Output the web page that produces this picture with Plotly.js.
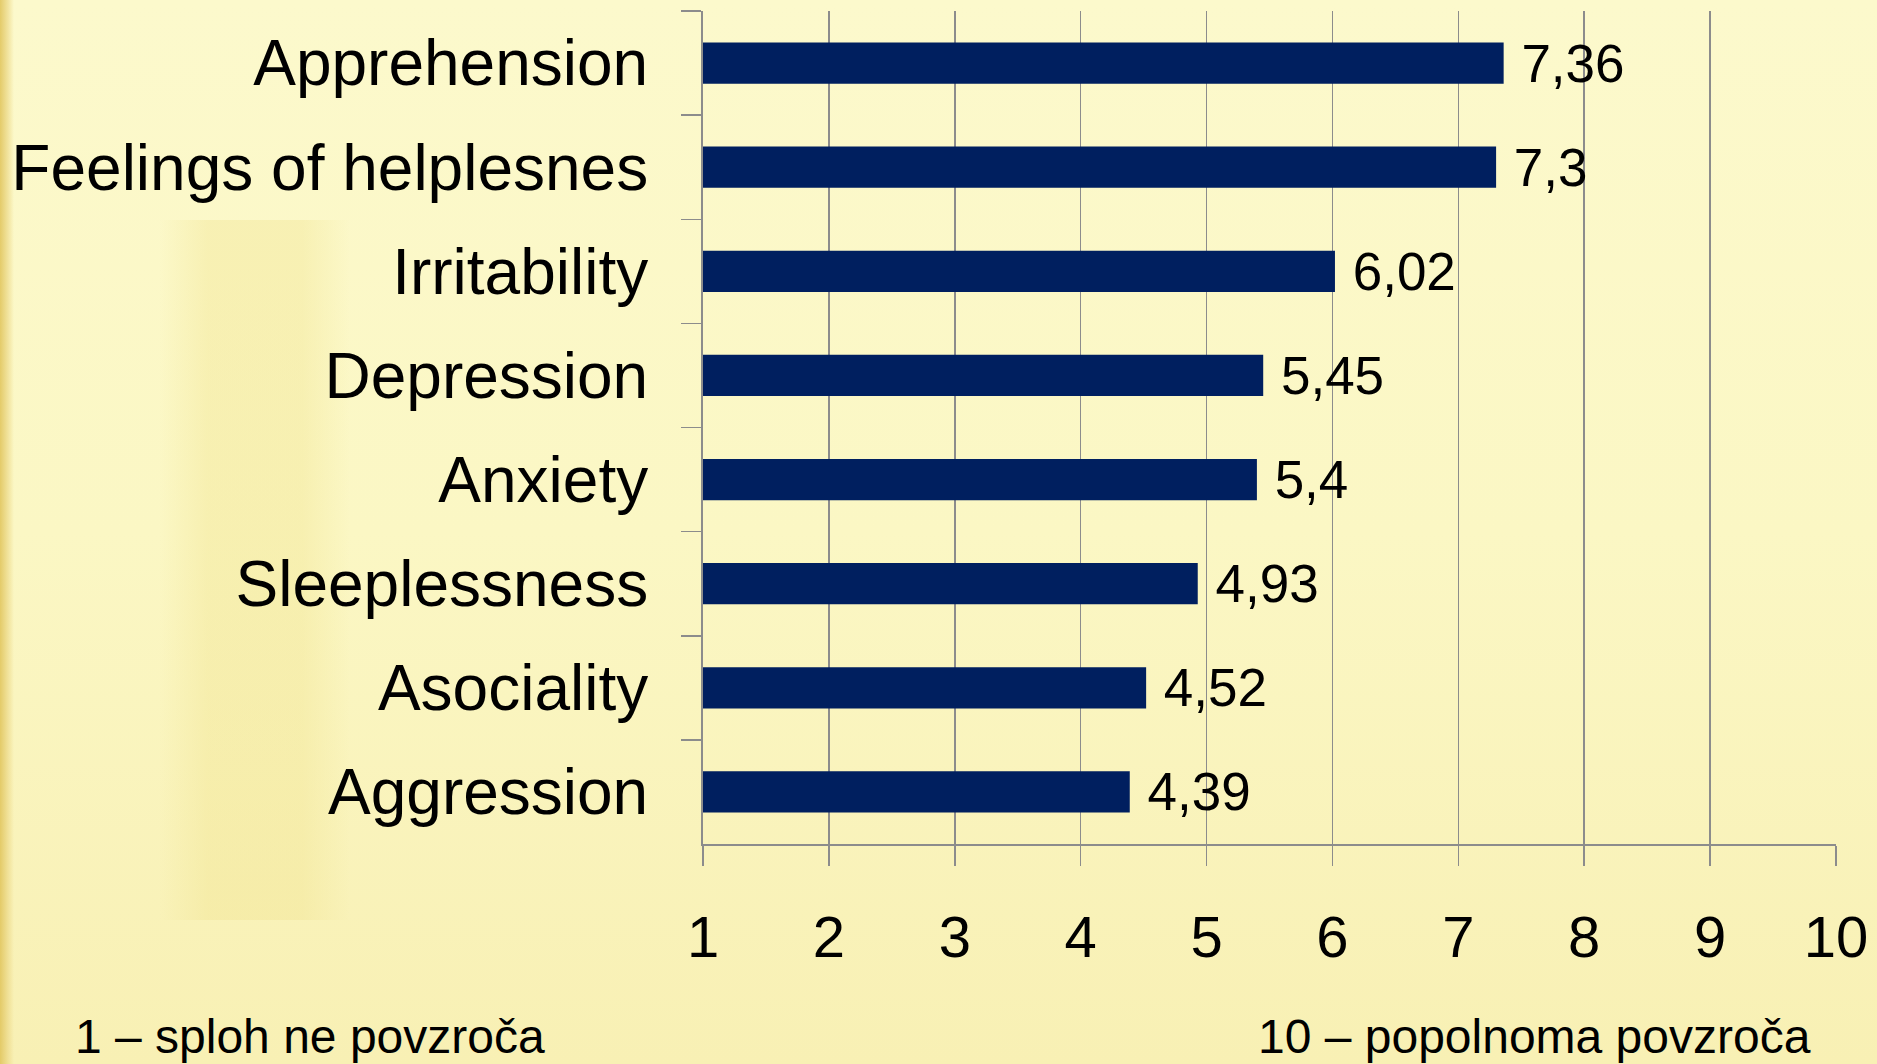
<!DOCTYPE html>
<html>
<head>
<meta charset="utf-8">
<script src="https://cdn.plot.ly/plotly-3.0.1.min.js"></script>
<style>
  html, body { margin: 0; padding: 0; width: 1877px; height: 1064px; overflow: hidden; }
  body {
    background:
      linear-gradient(to right, rgba(225,198,95,0.9) 0px, rgba(235,214,130,0.6) 8px, rgba(250,244,200,0) 14px),
      linear-gradient(to right, rgba(240,226,140,0) 0%, rgba(240,226,140,0.35) 25%, rgba(240,226,140,0.35) 75%, rgba(240,226,140,0) 100%) 160px 220px / 190px 700px no-repeat,
      linear-gradient(to bottom, #fcf9cc 0%, #fbf7c4 50%, #f8f0b4 100%);
  }
  #chart { position: absolute; left: 0; top: 0; width: 1877px; height: 1064px; }
</style>
</head>
<body>
<div id="chart"></div>
<script>
const categories = ["Apprehension", "Feelings of helplesnes", "Irritability", "Depression", "Anxiety", "Sleeplessness", "Asociality", "Aggression"];
const values = [7.36, 7.3, 6.02, 5.45, 5.4, 4.93, 4.52, 4.39];
const xTickValues = [1, 2, 3, 4, 5, 6, 7, 8, 9, 10];
const noteLeft = "1 – sploh ne povzroča";
const noteRight = "10 – popolnoma povzroča";

const labels = values.map(v => " " + String(v).replace(".", ","));
const FONT = "'Liberation Sans', Arial, sans-serif";

const trace = {
  type: "bar",
  orientation: "h",
  y: categories,
  x: values,
  text: labels,
  textposition: "outside",
  constraintext: "none",
  cliponaxis: false,
  textfont: { family: FONT, size: 53, color: "#000000" },
  marker: { color: "#001f5f", line: { width: 0 } },
  hoverinfo: "skip"
};

const layout = {
  width: 1877,
  height: 1064,
  margin: { l: 703, r: 41, t: 11, b: 220, pad: 0 },
  paper_bgcolor: "rgba(0,0,0,0)",
  plot_bgcolor: "rgba(0,0,0,0)",
  showlegend: false,
  bargap: 0.605,
  font: { family: FONT, color: "#000000" },
  xaxis: {
    range: [1, 10],
    tickvals: xTickValues,
    ticktext: xTickValues.map(String),
    showgrid: true,
    gridcolor: "#8c8c8c",
    gridwidth: 1.5,
    zeroline: false,
    showline: true,
    linecolor: "#8c8c8c",
    linewidth: 2,
    ticks: "outside",
    ticklen: 20,
    tickwidth: 1.5,
    tickcolor: "#8c8c8c",
    ticklabelstandoff: 21,
    tickfont: { family: FONT, size: 58, color: "#000000" },
    fixedrange: true
  },
  yaxis: {
    type: "category",
    autorange: "reversed",
    tickson: "boundaries",
    ticks: "outside",
    ticklen: 20,
    tickwidth: 1.5,
    tickcolor: "#8c8c8c",
    showline: true,
    linecolor: "#8c8c8c",
    linewidth: 2,
    showgrid: false,
    zeroline: false,
    ticklabelstandoff: 40,
    tickfont: { family: FONT, size: 64, color: "#000000" },
    fixedrange: true
  },
  annotations: [
    {
      text: noteLeft, xref: "paper", yref: "paper",
      x: -0.556, y: -0.231, xanchor: "left", yanchor: "middle",
      showarrow: false,
      font: { family: FONT, size: 48, color: "#000000" }
    },
    {
      text: noteRight, xref: "paper", yref: "paper",
      x: 0.9797, y: -0.231, xanchor: "right", yanchor: "middle",
      showarrow: false,
      font: { family: FONT, size: 48, color: "#000000" }
    }
  ]
};

Plotly.newPlot("chart", [trace], layout, { displayModeBar: false, staticPlot: true });
</script>
</body>
</html>
